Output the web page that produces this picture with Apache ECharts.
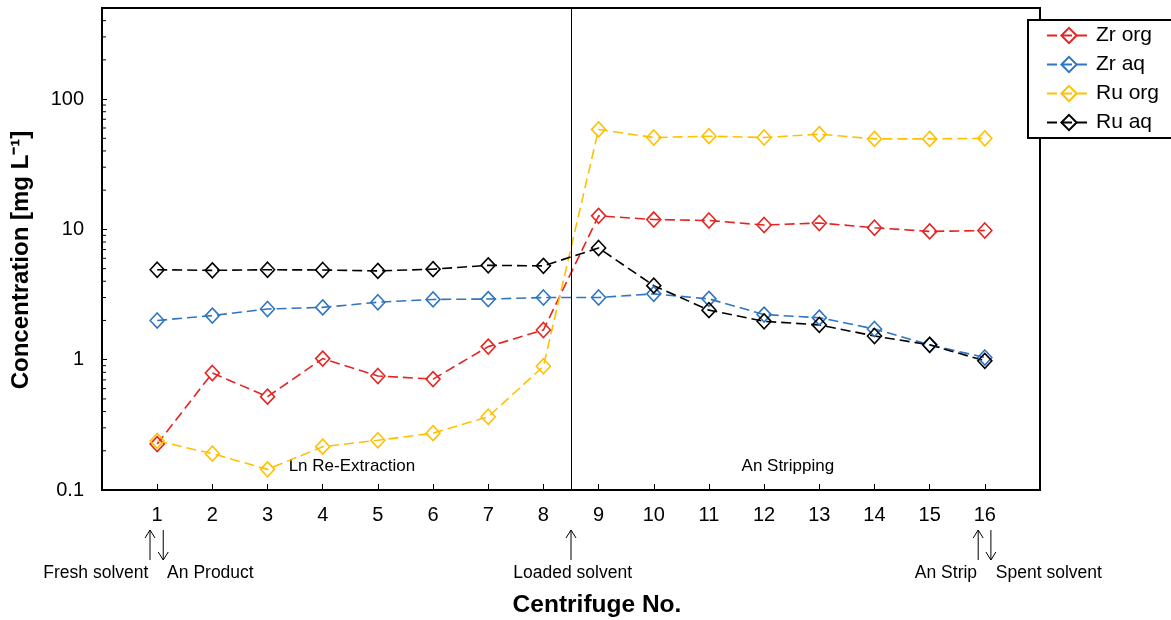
<!DOCTYPE html>
<html>
<head>
<meta charset="utf-8">
<script src="https://cdn.jsdelivr.net/npm/echarts@6/dist/echarts.min.js"></script>
<style>html,body{margin:0;padding:0;background:#fff}#c{width:1171px;height:620px}</style>
</head>
<body>
<div id="c"></div>
<script>
const centrifuges = [1,2,3,4,5,6,7,8,9,10,11,12,13,14,15,16];
const zrOrg = [0.225,0.79,0.52,1.02,0.75,0.71,1.26,1.69,12.7,11.9,11.7,10.8,11.2,10.3,9.65,9.8];
const zrAq  = [2.0,2.18,2.45,2.52,2.76,2.9,2.92,3.0,3.0,3.2,2.93,2.22,2.1,1.72,1.3,1.04];
const ruOrg = [0.238,0.19,0.144,0.215,0.241,0.273,0.365,0.89,58.5,50.7,51.9,50.7,53.8,49.5,49.5,50];
const ruAq  = [4.9,4.85,4.9,4.88,4.8,4.95,5.3,5.25,7.2,3.7,2.4,1.97,1.85,1.52,1.3,0.98];
const seriesNames = ['Zr org','Zr aq','Ru org','Ru aq'];
const yTickLabels = ['0.1','1','10','100'];

const colors = ['#E52421','#2F75C2','#FFC000','#000000'];
const FONT = '"Liberation Sans", Arial, sans-serif';

const chart = echarts.init(document.getElementById('c'), null, {renderer:'canvas'});

function mk(name, vals, color){
  return {
    name, type:'line',
    data: centrifuges.map((c,i)=>[c, vals[i]]),
    color: color,
    symbol:'diamond', symbolSize:[14,15],
    itemStyle:{color:'rgba(0,0,0,0)', borderColor:color, borderWidth:1.6},
    lineStyle:{color:color, width:1.6, type:[10,5]},
    emphasis:{disabled:true},
    animation:false
  };
}

const series = [
  mk(seriesNames[0], zrOrg, colors[0]),
  mk(seriesNames[1], zrAq, colors[1]),
  mk(seriesNames[2], ruOrg, colors[2]),
  mk(seriesNames[3], ruAq, colors[3])
];
series[0].markLine = {
  silent:true, symbol:'none', animation:false,
  label:{show:false},
  lineStyle:{color:'#000', width:1, type:'solid'},
  data:[{xAxis:8.5}]
};

chart.setOption({
  animation:false,
  backgroundColor:'#fff',
  textStyle:{fontFamily:FONT},
  grid:{left:102, top:8, right:131, bottom:130, show:true, borderColor:'#000', borderWidth:2, backgroundColor:'transparent'},
  legend:{
    left:1028, top:20, orient:'vertical',
    data:seriesNames,
    backgroundColor:'#fff', borderColor:'#000', borderWidth:2,
    padding:[5,40,5,18], itemGap:8, itemWidth:44, itemHeight:19,
    textStyle:{fontSize:21, color:'#000', fontFamily:FONT}
  },
  xAxis:{
    type:'value', min:0, max:17, interval:1,
    splitLine:{show:false},
    axisLine:{lineStyle:{color:'#000', width:2}},
    axisTick:{inside:true, length:6, lineStyle:{color:'#000', width:1}},
    axisLabel:{fontSize:20, color:'#000', margin:15, fontFamily:FONT,
      formatter:v=> (v>=1 && v<=16) ? String(v) : ''}
  },
  yAxis:{
    type:'log', logBase:10, min:0.1, max:500,
    splitLine:{show:false},
    axisLine:{lineStyle:{color:'#000', width:2}},
    axisTick:{inside:true, length:5, lineStyle:{color:'#000', width:1}},
    axisLabel:{fontSize:20, color:'#000', margin:18, fontFamily:FONT, showMaxLabel:false,
      formatter:v=>{ const s = String(+v.toPrecision(3)); return yTickLabels.includes(s)? s : ''; }}
  },
  series
});

function px(x, y){ return chart.convertToPixel({xAxisIndex:0, yAxisIndex:0}, [x, y]); }
function pxX(x){ return chart.convertToPixel({xAxisIndex:0}, x); }
function pxY(y){ return chart.convertToPixel({yAxisIndex:0}, y); }

const g = [];
// minor ticks on log axis
const x0 = pxX(0);
for (let d=-1; d<=2; d++){
  for (let m=2; m<=9; m++){
    const v = m*Math.pow(10,d);
    if (v>500) break;
    const y = pxY(v);
    g.push({type:'line', shape:{x1:x0, y1:y, x2:x0+4, y2:y}, style:{stroke:'#000', lineWidth:1}, silent:true});
  }
}
// in-plot annotations
const annots = [
  {text:'Ln Re-Extraction', x:4.53, y:0.153},
  {text:'An Stripping', x:12.43, y:0.153}
];
annots.forEach(a=>{
  const p = px(a.x, a.y);
  g.push({type:'text', x:p[0], y:p[1], style:{text:a.text, fill:'#000', font:'17px '+FONT, textAlign:'center', textVerticalAlign:'middle'}, silent:true});
});
// arrows below axis
const arrowTop = 530, arrowBot = 560;
const arrows = [
  {x:0.87, dir:'up'}, {x:1.11, dir:'down'},
  {x:8.5, dir:'up'},
  {x:15.88, dir:'up'}, {x:16.11, dir:'down'}
];
arrows.forEach(a=>{
  const x = pxX(a.x);
  g.push({type:'line', shape:{x1:x, y1:arrowTop, x2:x, y2:arrowBot}, style:{stroke:'#000', lineWidth:1}, silent:true});
  const hy = a.dir==='up'? arrowTop : arrowBot;
  const s = a.dir==='up'? 1 : -1;
  g.push({type:'polyline', shape:{points:[[x-5, hy+8*s],[x, hy],[x+5, hy+8*s]]}, style:{stroke:'#000', lineWidth:1, fill:null}, silent:true});
});
const belowLabels = [
  {text:'Fresh solvent', x:0.84, align:'right'},
  {text:'An Product', x:1.18, align:'left'},
  {text:'Loaded solvent', x:8.53, align:'center'},
  {text:'An Strip', x:15.86, align:'right'},
  {text:'Spent solvent', x:16.2, align:'left'}
];
belowLabels.forEach(l=>{
  g.push({type:'text', x:pxX(l.x), y:573, style:{text:l.text, fill:'#000', font:'17.5px '+FONT, textAlign:l.align, textVerticalAlign:'middle'}, silent:true});
});
g.push({type:'text', x:597, y:605, style:{text:'Centrifuge No.', fill:'#000', font:'bold 24.5px '+FONT, textAlign:'center', textVerticalAlign:'middle'}, silent:true});
g.push({type:'text', x:21, y:260, rotation:Math.PI/2, style:{text:'Concentration [mg L⁻¹]', fill:'#000', font:'bold 24px '+FONT, textAlign:'center', textVerticalAlign:'middle'}, silent:true});

chart.setOption({graphic:g});
</script>
</body>
</html>
